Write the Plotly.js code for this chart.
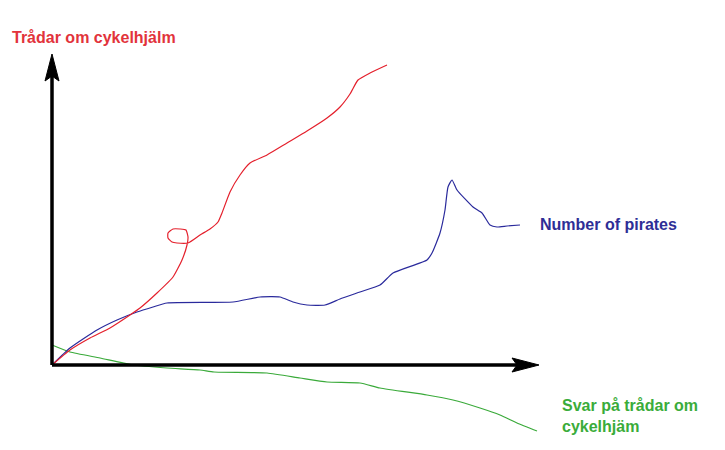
<!DOCTYPE html>
<html>
<head>
<meta charset="utf-8">
<script src="https://cdn.plot.ly/plotly-3.0.1.min.js"></script>
<style>
  html, body { margin: 0; padding: 0; background: #fff; }
  #myDiv { width: 725px; height: 450px; }
</style>
</head>
<body>
<div id="myDiv"></div>
<script>
// hand drawn sketch (origin = where the axes meet)
var tradarX = [0, 18, 38, 58, 78, 88, 105, 121, 130, 135, 136, 134, 128, 121, 116, 116, 120, 125, 136, 148, 158, 166, 170, 178, 188, 198, 215, 235, 255, 275, 288, 298, 306, 318, 335];
var tradarY = [0, 15, 27, 37, 50, 57, 72, 88, 105, 120, 128, 135, 136, 136, 132, 127, 123, 122, 122, 130, 136, 143, 152, 173, 190, 202, 210, 222, 234, 247, 258, 271, 285, 292, 300];

var piratesX = [0, 18, 45, 65, 85, 101, 115, 181, 208, 228, 241, 255, 273, 288, 308, 328, 341, 375, 380, 388, 393, 396, 400, 405, 421, 430, 438, 445, 455, 468];
var piratesY = [0, 17, 35, 45, 53, 58, 62, 63, 68, 68, 63, 60, 60, 66, 73, 80, 92, 105, 112, 132, 155, 178, 185, 175, 158, 152, 140, 138, 139, 140];

var svarX = [0, 18, 48, 81, 115, 148, 162, 215, 248, 275, 308, 328, 375, 401, 428, 448, 465, 485];
var svarY = [20, 13, 7, 0, -3, -5, -7, -8, -13, -17, -18, -23, -30, -35, -43, -50, -58, -66];

var seriesNames = ['Trådar om cykelhjälm', 'Number of pirates', 'Svar på trådar om<br>cykelhjäm'];

var trace1 = {
  x: svarX,
  y: svarY,
  mode: 'lines',
  type: 'scatter',
  name: seriesNames[2],
  hoverinfo: 'skip',
  line: { color: '#3aaa3a', width: 1.2, shape: 'spline', smoothing: 0.5 }
};
var trace2 = {
  x: piratesX,
  y: piratesY,
  mode: 'lines',
  type: 'scatter',
  name: seriesNames[1],
  hoverinfo: 'skip',
  line: { color: '#2a2a9c', width: 1.2, shape: 'spline', smoothing: 0.5 }
};
var trace3 = {
  x: tradarX,
  y: tradarY,
  mode: 'lines',
  type: 'scatter',
  name: seriesNames[0],
  hoverinfo: 'skip',
  line: { color: '#e4202c', width: 1.2, shape: 'spline', smoothing: 0.5 }
};

var data = [trace1, trace2, trace3];

var labelFont = function (c) {
  return { family: 'Liberation Sans, Arial, sans-serif', size: 16, color: c, weight: 'bold' };
};

var layout = {
  width: 725,
  height: 450,
  margin: { l: 0, r: 0, t: 0, b: 0 },
  paper_bgcolor: 'white',
  plot_bgcolor: 'white',
  showlegend: false,
  xaxis: { range: [-52, 673], visible: false, fixedrange: true },
  yaxis: { range: [-85, 365], visible: false, fixedrange: true },
  shapes: [
    // y axis + arrowhead
    { type: 'line', xref: 'x', yref: 'y', x0: 0, y0: 0, x1: 0, y1: 290,
      line: { color: 'black', width: 3.5 } },
    { type: 'path', xref: 'x', yref: 'y', path: 'M 0 311 L -7 284 L 0 289 L 7 284 Z',
      fillcolor: 'black', line: { color: 'black', width: 1 } },
    // x axis + arrowhead
    { type: 'line', xref: 'x', yref: 'y', x0: 0, y0: 0, x1: 466, y1: 0,
      line: { color: 'black', width: 3.5 } },
    { type: 'path', xref: 'x', yref: 'y', path: 'M 487 0 L 460 -7 L 465 0 L 460 7 Z',
      fillcolor: 'black', line: { color: 'black', width: 1 } }
  ],
  annotations: [
    { x: -42, y: 328, xref: 'x', yref: 'y', text: seriesNames[0], showarrow: false,
      xanchor: 'left', yanchor: 'middle', font: labelFont('#e2333b') },
    { x: 486, y: 141, xref: 'x', yref: 'y', text: seriesNames[1], showarrow: false,
      xanchor: 'left', yanchor: 'middle', font: labelFont('#2e2e96') },
    { x: 508, y: -51, xref: 'x', yref: 'y', text: seriesNames[2], showarrow: false,
      xanchor: 'left', yanchor: 'middle', align: 'left', font: labelFont('#3aac3a') }
  ]
};

Plotly.newPlot('myDiv', data, layout, { displayModeBar: false, staticPlot: true });
</script>
</body>
</html>
